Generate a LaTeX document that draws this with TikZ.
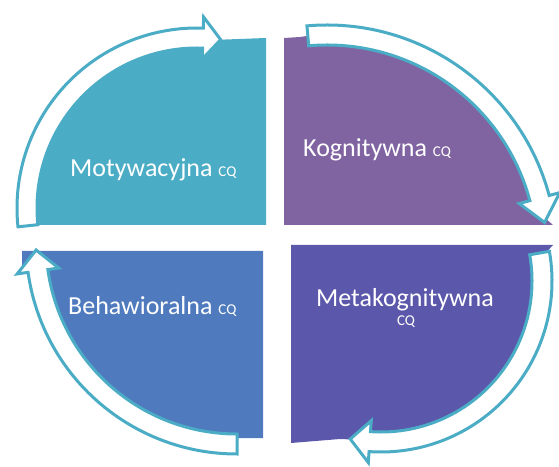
\documentclass[tikz,border=0pt]{standalone}
\usepackage{fontspec}
\setmainfont{Carlito}
\definecolor{tlcol}{HTML}{4BACC6}
\definecolor{trcol}{HTML}{8064A2}
\definecolor{brcol}{HTML}{5B57AB}
\definecolor{blcol}{HTML}{4F7BBE}
\definecolor{arrowline}{HTML}{4BACC6}
\newcommand{\cqfont}{\fontsize{15}{17}\selectfont}
% #1,#2 centre, #3 radius, #4 tail angle, #5 head-base angle, #6 tip angle
\newcommand{\cyclearrow}[6]{%
  \draw[arrowshape]
    ([shift={(#1,#2)}]#4:{#3pt+10pt}) arc[start angle=#4, end angle=#5, radius={#3pt+10pt}]
    -- ([shift={(#1,#2)}]#5:{#3pt+21pt})
    -- ([shift={(#1,#2)}]#6:{#3pt})
    -- ([shift={(#1,#2)}]#5:{#3pt-21pt})
    -- ([shift={(#1,#2)}]#5:{#3pt-10pt})
    arc[start angle=#5, end angle=#4, radius={#3pt-10pt}] -- cycle;}
\begin{document}
\begin{tikzpicture}[x=1pt,y=1pt,
  arrowshape/.style={draw=arrowline, line width=3pt, fill=white, line join=miter},
  quad/.style={draw=none},
  lbl/.style={text=white, font=\fontsize{26}{30}\selectfont, inner sep=0pt}]
\useasboundingbox (0,0) rectangle (559,466);
% quadrants
\fill[quad, tlcol] (266,241) -- (266,428) -- (212,426)
  -- ([shift={(197,258)}]88:170pt) arc[start angle=88, end angle=186, radius=170pt]
  -- (28,241) -- cycle;
\fill[quad, trcol] (284,241) -- (284,428) -- (300,429)
  -- ([shift={(327,211)}]95:220pt) arc[start angle=95, end angle=10, radius=220pt]
  -- (553,241) -- cycle;
\fill[quad, brcol] (291,221) -- (553,221)
  -- ([shift={(381,185)}]8:161pt) arc[start angle=8, end angle=-100, radius=161pt]
  -- (340,27) -- (291,23) -- cycle;
\fill[quad, blcol] (263,215) -- (263,28) -- (237,28)
  -- ([shift={(237,223)}]270:197pt) arc[start angle=270, end angle=188, radius=197pt]
  -- (22,200) -- (22,215) -- cycle;
% circular arrows
\cyclearrow{197}{258}{170}{186}{88}{82}
\cyclearrow{327}{211}{220}{95}{15}{8.5}
\cyclearrow{381}{185}{161}{10}{-94}{-101}
\cyclearrow{237}{223}{201}{270}{188}{182}
% labels
\node[lbl, anchor=base west] (mot) at (70,289) {Motywacyjna {\cqfont CQ}};
\node[lbl, anchor=base west] (kog) at (303,309) {Kognitywna {\cqfont CQ}};
\node[lbl, anchor=base west] (beh) at (68,151) {Behawioralna {\cqfont CQ}};
\node[lbl, anchor=base] (meta) at (405,160) {Metakognitywna};
\node[lbl, anchor=base, font=\cqfont] (metacq) at (406,140) {CQ};
\end{tikzpicture}
\end{document}
